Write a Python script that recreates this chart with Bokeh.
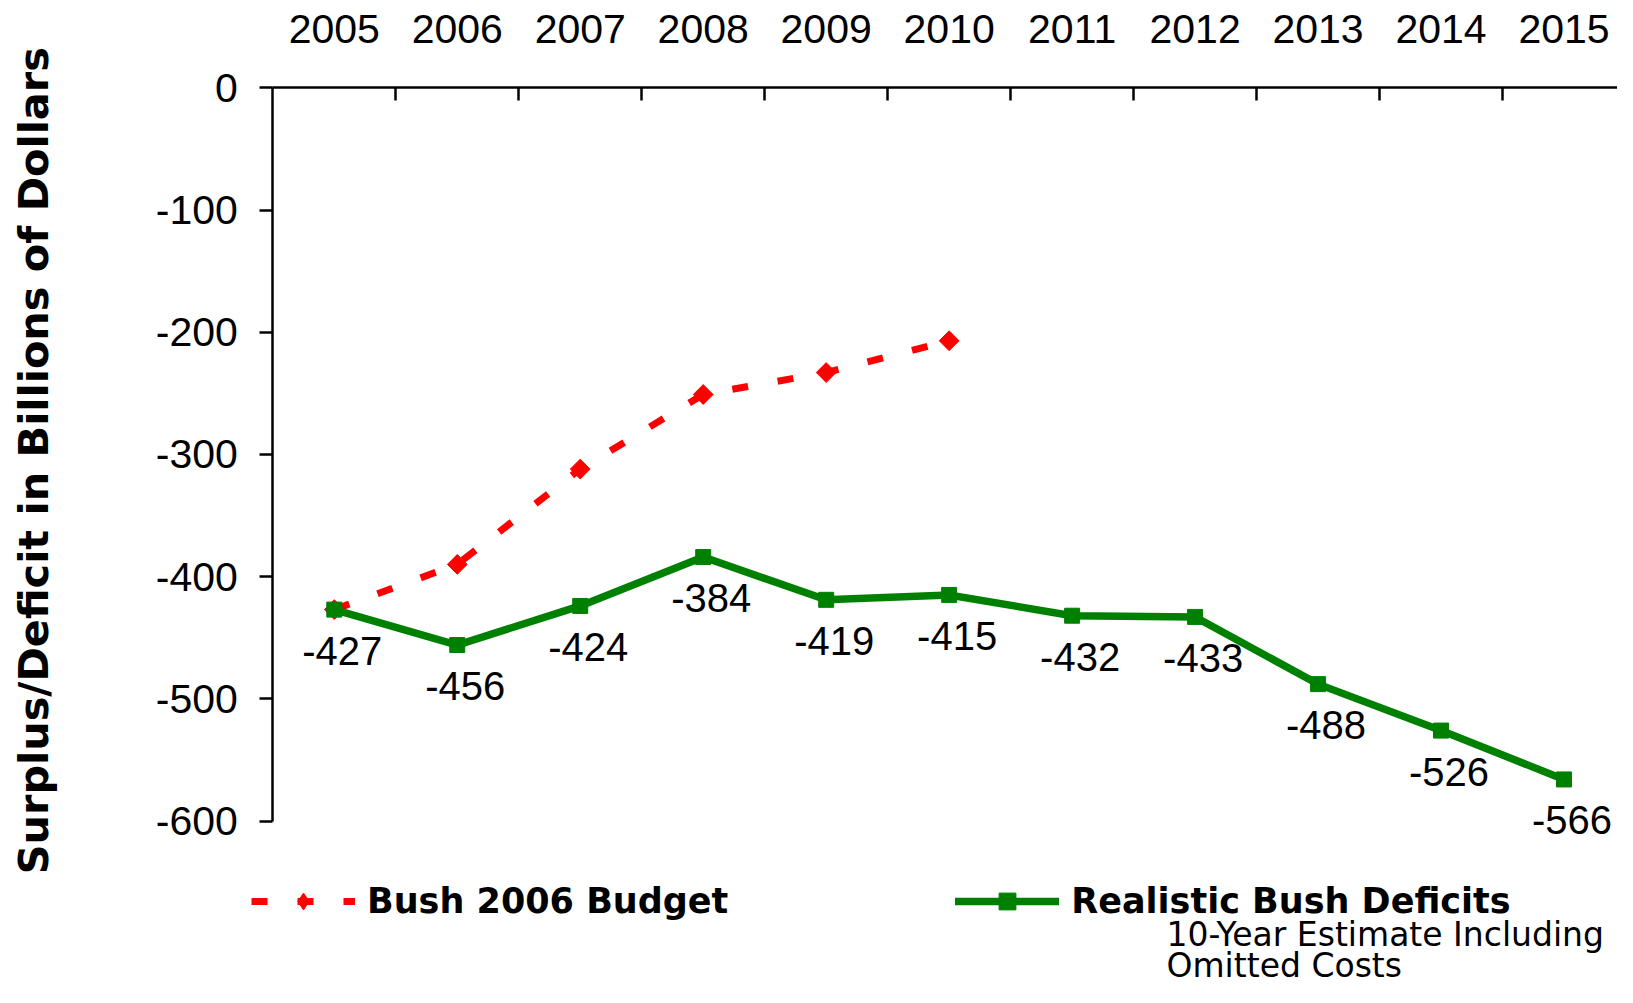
import math
from bokeh.plotting import figure
from bokeh.models import (Range1d, FixedTicker, ColumnDataSource, LabelSet, Label,
                          Legend, LegendItem)
from bokeh.embed import file_html
from bokeh.resources import INLINE
from bokeh.core.properties import value

# ---- data ----
years = [2005, 2006, 2007, 2008, 2009, 2010, 2011, 2012, 2013, 2014, 2015]
budget_years = [2005, 2006, 2007, 2008, 2009, 2010]
budget_values = [-427, -390, -312, -251, -233, -207]
realistic_values = [-427, -456, -424, -384, -419, -415, -432, -433, -488, -526, -566]
y_ticks = [0, -100, -200, -300, -400, -500, -600]
budget_label = "Bush 2006 Budget"
realistic_label = "Realistic Bush Deficits"
note_lines = ["10-Year Estimate Including", "Omitted Costs"]
y_title = "Surplus/Deficit in Billions of  Dollars"

RED = "#FF0000"
GREEN = "#008000"
ARIAL = "Liberation Sans"
WIDE = "DejaVu Sans"

# ---- layout geometry (canvas pixels) ----
W, H = 1617, 987
PLOT_LEFT, PLOT_RIGHT = 272.3, 1625.0      # x of the y axis / right end of top axis
PLOT_TOP, PLOT_BOTTOM = 87.3, 820.5        # y of value 0 / value -600
x_lo, x_hi = years[0] - 0.5, years[-1] + 0.5
y_lo, y_hi = min(y_ticks), max(y_ticks)
kx = (PLOT_RIGHT - PLOT_LEFT) / (x_hi - x_lo)
ky = (PLOT_BOTTOM - PLOT_TOP) / (y_hi - y_lo)

p = figure(width=W, height=H, output_backend="svg", toolbar_location=None,
           x_range=Range1d(x_lo - PLOT_LEFT / kx, x_hi - (PLOT_RIGHT - W) / kx),
           y_range=Range1d(y_lo - (H - PLOT_BOTTOM) / ky, y_hi + PLOT_TOP / ky),
           x_axis_location="above",
           min_border=0, min_border_left=0, min_border_top=0, min_border_right=0,
           min_border_bottom=0)
p.outline_line_color = None
p.xgrid.visible = False
p.ygrid.visible = False

# x axis (top, crossing at value 0)
xa = p.xaxis[0]
xa.fixed_location = y_hi
xa.bounds = (x_lo, x_hi)
xa.ticker = FixedTicker(ticks=years, minor_ticks=[y + 0.5 for y in years])
xa.major_label_overrides = {y: str(y) for y in years}
xa.major_tick_in = 0
xa.major_tick_out = 0
xa.minor_tick_in = 13
xa.minor_tick_out = 0
xa.minor_tick_line_color = "black"
xa.minor_tick_line_width = 2.5
xa.axis_line_width = 2.5
xa.axis_line_color = "black"
xa.major_label_standoff = 45
xa.major_label_text_font = ARIAL
xa.major_label_text_font_size = "41px"
xa.major_label_text_color = "black"

# y axis (left)
ya = p.yaxis[0]
ya.fixed_location = x_lo
ya.bounds = (y_lo, y_hi)
ya.ticker = FixedTicker(ticks=y_ticks)
ya.major_label_overrides = {t: str(t) for t in y_ticks}
ya.major_tick_in = 0
ya.major_tick_out = 13
ya.major_tick_line_width = 2.5
ya.major_tick_line_color = "black"
ya.axis_line_width = 2.5
ya.axis_line_color = "black"
ya.major_label_standoff = 22
ya.major_label_text_font = ARIAL
ya.major_label_text_font_size = "41px"
ya.major_label_text_color = "black"

# series
r1l = p.line(budget_years, budget_values, line_color=RED, line_width=7,
             line_dash="16 30", line_cap="butt")
# diamond glyph (sits under the rotated squares; it is what the legend shows)
r1d = p.scatter(budget_years, budget_values, marker="diamond", size=18,
                fill_color=RED, line_color=RED)
r1s = p.scatter(budget_years, budget_values, marker="square", angle=math.pi / 4,
                size=14, fill_color=RED, line_color=RED)
r2l = p.line(years, realistic_values, line_color=GREEN, line_width=7.5,
             line_cap="round", line_join="miter")
r2s = p.scatter(years, realistic_values, marker="square", size=15,
                fill_color=GREEN, line_color=GREEN)

src = ColumnDataSource(dict(x=years, y=realistic_values,
                            text=[str(v) for v in realistic_values]))
p.add_layout(LabelSet(x="x", y="y", text="text", source=src, x_offset=8, y_offset=-41,
                      text_align="center", text_baseline="middle",
                      text_font=value(ARIAL), text_font_size=value("40px"),
                      text_color="black"))

# y axis title
p.add_layout(Label(x=33, y=H - 453, x_units="screen", y_units="screen", text=y_title,
                   angle=math.pi / 2, text_align="center", text_baseline="middle",
                   text_font=WIDE, text_font_size="41.4px", text_font_style="bold",
                   text_color="black"))

legend = Legend(items=[LegendItem(label=budget_label, renderers=[r1l, r1d]),
                       LegendItem(label=realistic_label, renderers=[r2l, r2s])],
                orientation="horizontal", location=(251, 64.6),
                glyph_width=104, glyph_height=42, label_standoff=12, spacing=227,
                padding=0, margin=0, border_line_color=None,
                background_fill_alpha=0,
                label_text_font=WIDE, label_text_font_size="35px",
                label_text_font_style="bold", label_text_color="black")
p.add_layout(legend)

for i, line in enumerate(note_lines):
    p.add_layout(Label(x=1166, y=H - 934 - 31 * i, x_units="screen", y_units="screen",
                       text=line, text_align="left", text_baseline="middle",
                       text_font=WIDE, text_font_size="33px", text_color="black"))

open("out.html", "w").write(file_html(p, INLINE))
